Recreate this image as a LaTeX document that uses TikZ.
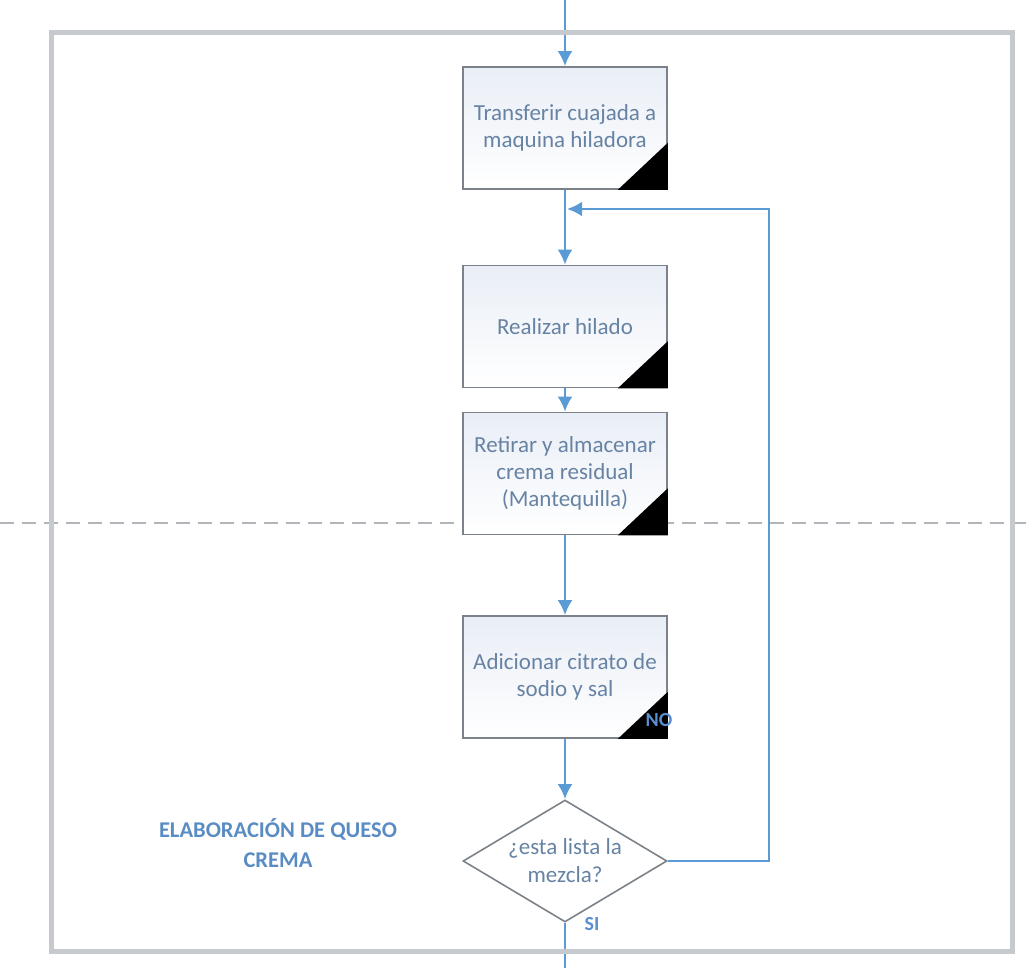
\documentclass[tikz,border=0pt]{standalone}
\usepackage{fontspec}
\setmainfont{Carlito}
\usetikzlibrary{arrows.meta,shapes.geometric}
\definecolor{arrowblue}{HTML}{5B9BD5}
\definecolor{boxtext}{HTML}{6783A4}
\definecolor{lanetext}{HTML}{5A8CC4}
\definecolor{labelblue}{HTML}{5B8FD0}
\definecolor{framegray}{HTML}{C6C9CD}
\definecolor{boxedge}{HTML}{7C8289}
\definecolor{boxtint}{HTML}{E9EEF6}
\definecolor{dashgray}{HTML}{B2B5B9}
\begin{document}
\begin{tikzpicture}[x=1pt,y=-1pt,
  procbox/.style={draw=boxedge, line width=1.6pt, minimum width=204pt, minimum height=122pt,
    inner sep=0pt, top color=boxtint, bottom color=white, align=center,
    font=\fontsize{23}{27}\selectfont, text=boxtext},
  decision/.style={diamond, draw=boxedge, line width=1.6pt, fill=white, minimum width=204pt,
    minimum height=122pt, aspect=1.672, inner sep=0pt, align=center,
    font=\fontsize{23}{28}\selectfont, text=boxtext},
  flow/.style={draw=arrowblue, line width=2.8pt, -{Latex[length=15pt,width=15pt]}},
  plainflow/.style={draw=arrowblue, line width=2.8pt},
  corner/.style={fill=black},
  lanelabel/.style={font=\bfseries\fontsize{22.5}{30}\selectfont, text=lanetext, align=center},
  branchlabel/.style={font=\bfseries\fontsize{20}{20}\selectfont, text=labelblue, inner sep=0pt},
  frame/.style={draw=framegray, line width=5pt},
  separator/.style={draw=dashgray, line width=1.8pt, dash pattern=on 14pt off 8pt}
]
\useasboundingbox (0,0) rectangle (1034,968);

% lane separator
\draw[separator] (0,523) -- (1034,523);

% nodes
\node[procbox] (b1) at (565,128) {Transferir cuajada a\\maquina hiladora};
\node[procbox] (b2) at (565,326.5) {Realizar hilado};
\node[procbox] (b3) at (565,473.5) {Retirar y almacenar\\crema residual\\(Mantequilla)};
\node[procbox] (b4) at (565,677) {Adicionar citrato de\\sodio y sal};
\node[decision] (d) at (565,861) {¿esta lista la\\mezcla?};

\foreach \n in {b1,b2,b3,b4}{
  \fill[corner] (\n.south east) -- ++(-50,0) -- ++(50,-47) -- cycle;
}

\node[branchlabel] (no) at (659,720) {NO};
\node[branchlabel] (si) at (592,924) {SI};
\node[lanelabel] (lane) at (278,843) {ELABORACIÓN DE QUESO\\CREMA};

% connectors
\coordinate (top) at (565,0);
\coordinate (bottom) at (565,968);
\coordinate (rt) at (769,861);
\coordinate (rb) at (769,209);
\coordinate (join) at (565,209);

\draw[flow] (top) -- (b1.north);
\draw[flow] (b1.south) -- (b2.north);
\draw[flow] (b2.south) -- (b3.north);
\draw[flow] (b3.south) -- (b4.north);
\draw[flow] (b4.south) -- (d.north);
\draw[plainflow] (d.south) -- (bottom);
\draw[flow] (d.east) -- (rt) -- (rb) -- ([xshift=2pt]join);

% frame
\draw[frame] (51.5,32.5) rectangle (1012,951);
\end{tikzpicture}
\end{document}
